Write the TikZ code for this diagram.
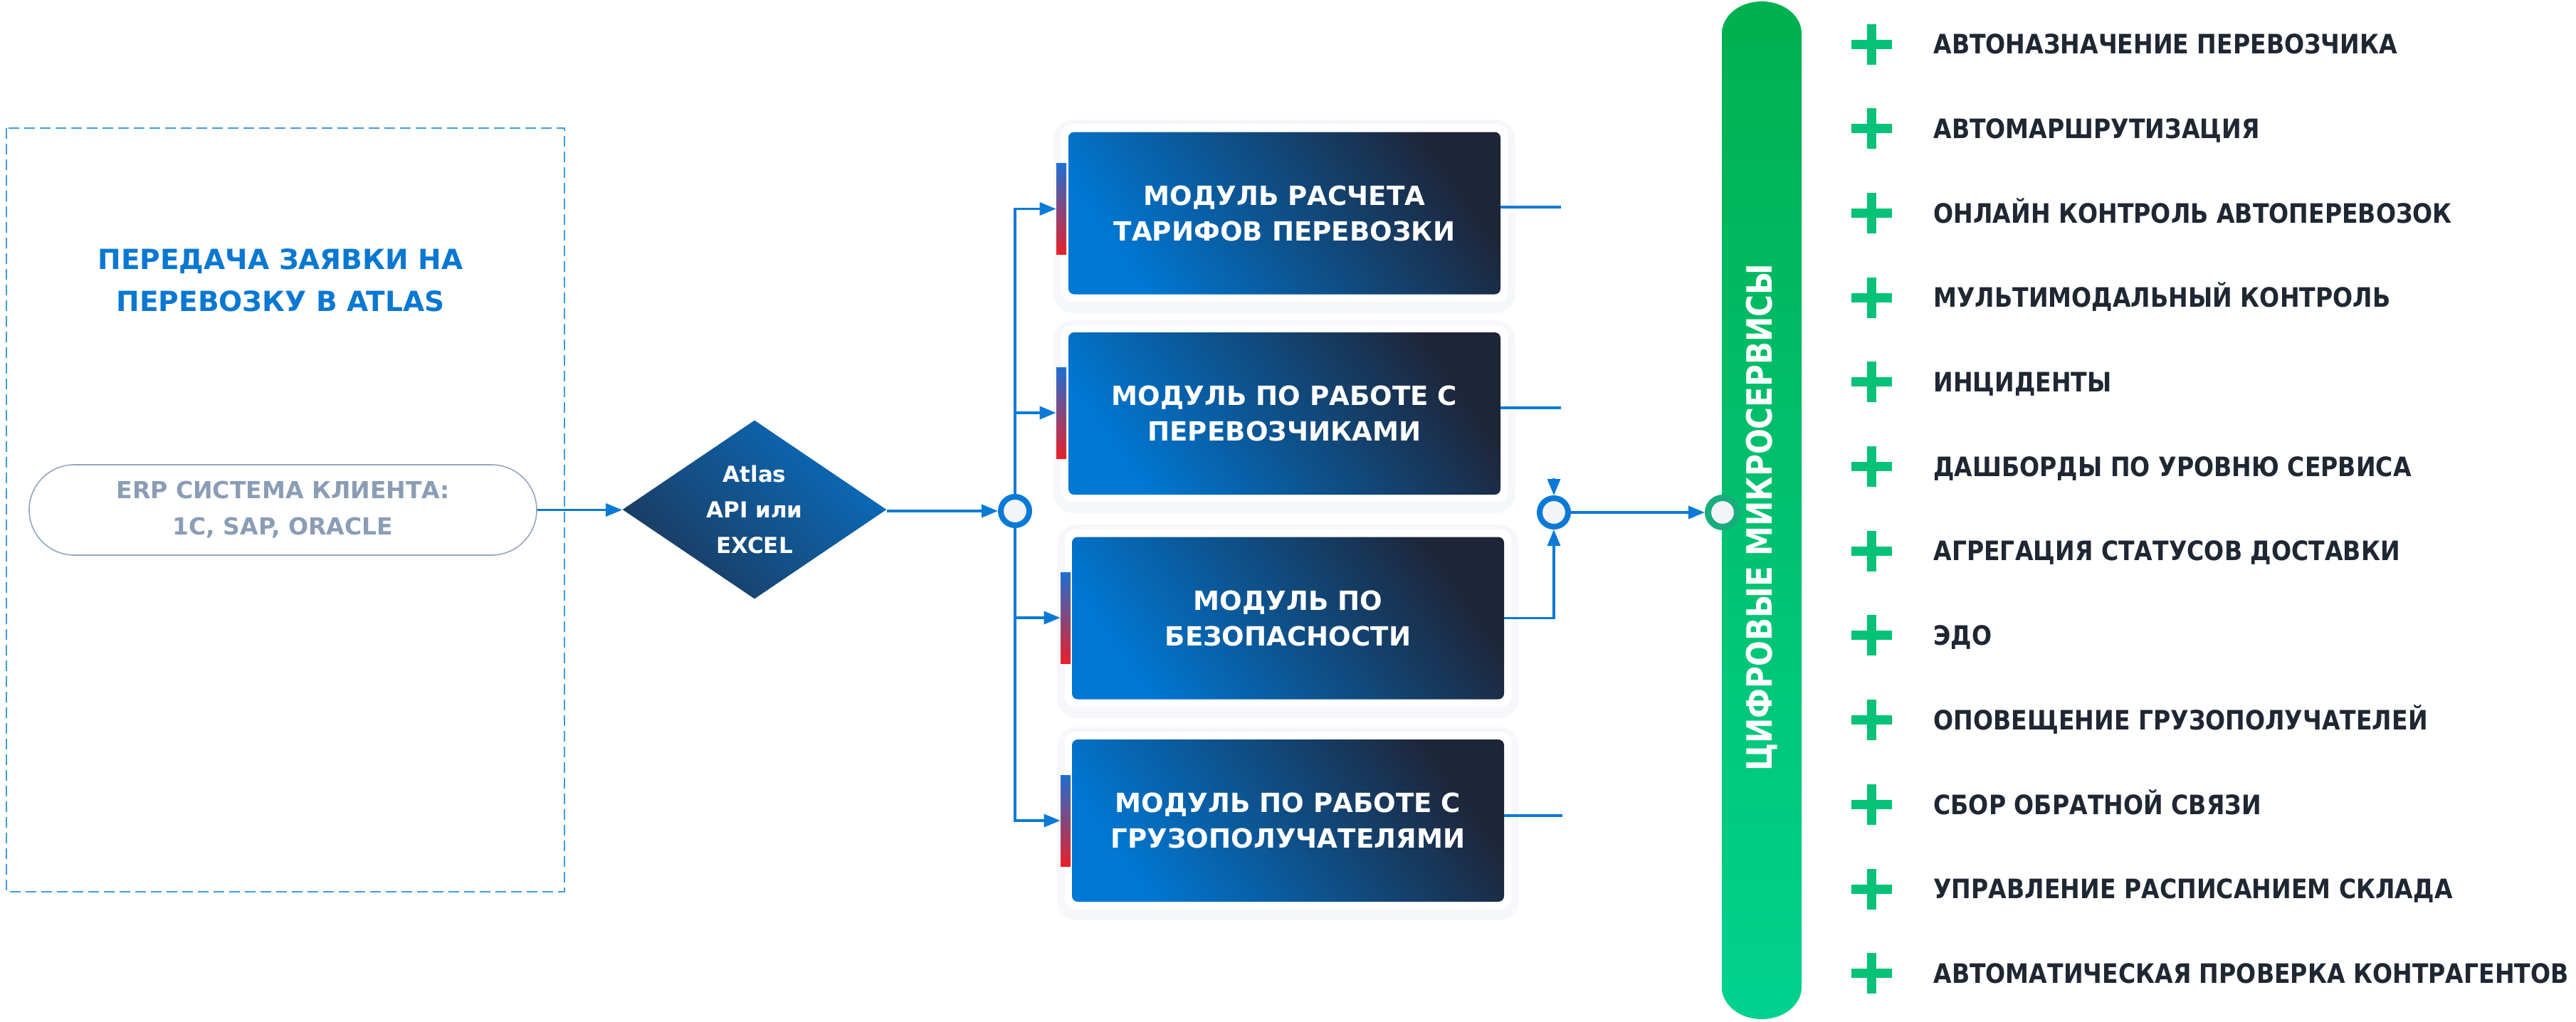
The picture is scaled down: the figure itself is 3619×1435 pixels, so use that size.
\documentclass[tikz,border=0pt]{standalone}
\usepackage{fontspec}
\setmainfont{DejaVu Sans}
\newfontfamily\dvfont{DejaVu Sans}
\newfontfamily\condfont{DejaVu Sans}[FakeStretch=0.88]
\newfontfamily\vfont{DejaVu Sans}[FakeStretch=0.86]
\usetikzlibrary{shapes.geometric,arrows.meta,calc}
\definecolor{cblue}{HTML}{0A7AD6}
\definecolor{ctitle}{HTML}{0A78D2}
\definecolor{cdash}{HTML}{3F9CE0}
\definecolor{cerp}{HTML}{8A9DB5}
\definecolor{cpill}{HTML}{93A6BE}
\definecolor{cnavy}{HTML}{1E2538}
\definecolor{cmblue}{HTML}{0078D4}
\definecolor{cdnavy}{HTML}{1B3A5E}
\definecolor{cdblue}{HTML}{0A6CBC}
\definecolor{cred}{HTML}{E8202A}
\definecolor{cbarb}{HTML}{1F6FD0}
\definecolor{cgone}{HTML}{00B050}
\definecolor{cgtwo}{HTML}{00D28E}
\definecolor{cgring}{HTML}{17AD7C}
\definecolor{cplus}{HTML}{05C278}
\definecolor{ctext}{HTML}{1F2733}
\definecolor{cring}{HTML}{F2F4F8}
\definecolor{cshadow}{HTML}{F6F7FA}
\begin{document}
\begin{tikzpicture}[x=0.5pt,y=-0.5pt,
 conn/.style={draw=cblue, line width=1.75pt, -{Triangle[length=11.5pt,width=9pt]}},
 plainline/.style={draw=cblue, line width=1.75pt},
 modbox/.style={rectangle, rounded corners=4pt, minimum width=303.5pt, minimum height=114pt, inner sep=0pt, top color=cnavy, bottom color=cmblue, shading angle=-55, text=white, align=center, font=\dvfont\bfseries\fontsize{18.6}{25}\selectfont},
 sidebar/.style={rectangle, minimum width=7pt, minimum height=64pt, inner sep=0pt, top color=cbarb, bottom color=cred},
 jring/.style={circle, draw=cblue, line width=4pt, fill=cring, minimum size=20pt, inner sep=0pt},
 listitem/.style={anchor=base west, inner sep=0pt, text=ctext, font=\condfont\bfseries\fontsize{18.8}{23}\selectfont},
 shadowbox/.style={fill=cshadow, rounded corners=14pt},
 whitebox/.style={fill=white, rounded corners=7pt},
]
\useasboundingbox (0,0) rectangle (3619,1435);

% left frame
\draw[cdash, line width=1pt, dash pattern=on 7.5pt off 3.5pt] (9,180) rectangle (793,1253);
\node[text=ctitle, font=\dvfont\bfseries\fontsize{19.5}{29.5}\selectfont, align=center, inner sep=0pt] (title) at (394,394) {ПЕРЕДАЧА ЗАЯВКИ НА\\ПЕРЕВОЗКУ В ATLAS};
\node[rectangle, rounded corners=31.75pt, minimum width=356.5pt, minimum height=63.5pt, draw=cpill, line width=0.8pt, fill=white, text=cerp, align=center, inner sep=0pt, font=\dvfont\bfseries\fontsize{16.5}{25.5}\selectfont] (pill) at (397.5,716.5) {ERP СИСТЕМА КЛИЕНТА:\\1C, SAP, ORACLE};

% diamond
\node[diamond, aspect=1.48, minimum width=185.5pt, minimum height=125.5pt, inner sep=0pt, top color=cdblue, bottom color=cdnavy, shading angle=-45, text=white, align=center, font=\dvfont\bfseries\fontsize{15.5}{25}\selectfont] (dia) at (1060,716) {Atlas\\API или\\EXCEL};

% module shadows
\fill[shadowbox] (1480,168) rectangle (2129,440);
\fill[shadowbox] (1480,450) rectangle (2129,721);
\fill[shadowbox] (1485,737) rectangle (2134,1009);
\fill[shadowbox] (1485,1022) rectangle (2134,1293);
\fill[whitebox] (1491,175) rectangle (2118,424);
\fill[whitebox] (1491,457) rectangle (2118,705);
\fill[whitebox] (1496,744) rectangle (2123,993);
\fill[whitebox] (1496,1029) rectangle (2123,1277);

% modules
\node[modbox] (b1) at (1804.5,299.5) {МОДУЛЬ РАСЧЕТА\\ТАРИФОВ ПЕРЕВОЗКИ};
\node[modbox] (b2) at (1804.5,581) {МОДУЛЬ ПО РАБОТЕ С\\ПЕРЕВОЗЧИКАМИ};
\node[modbox] (b3) at (1809.5,868.5) {МОДУЛЬ ПО\\БЕЗОПАСНОСТИ};
\node[modbox] (b4) at (1809.5,1153) {МОДУЛЬ ПО РАБОТЕ С\\ГРУЗОПОЛУЧАТЕЛЯМИ};

\node[sidebar] (bar1) at (1491,293.5) {};
\node[sidebar] (bar2) at (1491,580) {};
\node[sidebar] (bar3) at (1497,868) {};
\node[sidebar] (bar4) at (1497,1153) {};

% junction 1
\node[jring] (j1) at (1426,718) {};
\draw[conn] (pill.east) -- (pill.east -| dia.west);
\draw[conn] (dia.east |- j1) -- (j1.west);
\draw[conn] (j1.north) |- (bar1.west);
\draw[conn] (j1.north) |- (bar2.west);
\draw[conn] (j1.south) |- (bar3.west);
\draw[conn] (j1.south) |- (bar4.west);

% right stubs
\coordinate (s1) at (2193,291);
\coordinate (s2) at (2193,573);
\coordinate (s4) at (2195,1146);
\draw[plainline] (b1.east |- s1) -- (s1);
\draw[plainline] (b2.east |- s2) -- (s2);
\draw[plainline] (b4.east |- s4) -- (s4);

% green bar
\shade[top color=cgone, bottom color=cgtwo] (2419,1387) -- (2419,47) arc[start angle=180, end angle=360, x radius=56, y radius=45] -- (2531,1387) arc[start angle=0, end angle=180, x radius=56, y radius=45] -- cycle;
\node[rotate=90, text=white, inner sep=0pt, font=\vfont\bfseries\fontsize{24.5}{30}\selectfont] (vt) at (2475,727) {ЦИФРОВЫЕ МИКРОСЕРВИСЫ};

% junction 2 and green ring
\node[jring] (j2) at (2183,720) {};
\node[circle, draw=cgring, line width=4.5pt, fill=cring, minimum size=20.5pt, inner sep=0pt] (gc) at (2420,720) {};
\coordinate (j2top) at (2183,672);
\draw[conn] (b3.east) -| (j2.south);
\draw[conn] (j2top) -- (j2.north);
\draw[conn] (j2.east) -- (gc.west);

% list
\foreach \t [count=\i from 0] in {АВТОНАЗНАЧЕНИЕ ПЕРЕВОЗЧИКА,АВТОМАРШРУТИЗАЦИЯ,ОНЛАЙН КОНТРОЛЬ АВТОПЕРЕВОЗОК,МУЛЬТИМОДАЛЬНЫЙ КОНТРОЛЬ,ИНЦИДЕНТЫ,ДАШБОРДЫ ПО УРОВНЮ СЕРВИСА,АГРЕГАЦИЯ СТАТУСОВ ДОСТАВКИ,ЭДО,ОПОВЕЩЕНИЕ ГРУЗОПОЛУЧАТЕЛЕЙ,СБОР ОБРАТНОЙ СВЯЗИ,УПРАВЛЕНИЕ РАСПИСАНИЕМ СКЛАДА,АВТОМАТИЧЕСКАЯ ПРОВЕРКА КОНТРАГЕНТОВ} {
 \pgfmathsetmacro\yy{62+118.7*\i}
 \fill[cplus] (2601,\yy-6.5) rectangle (2658,\yy+6.5);
 \fill[cplus] (2623,\yy-28.5) rectangle (2636,\yy+28.5);
 \node[listitem] (it\i) at (2716,\yy+13.75) {\t};
}
\end{tikzpicture}
\end{document}
